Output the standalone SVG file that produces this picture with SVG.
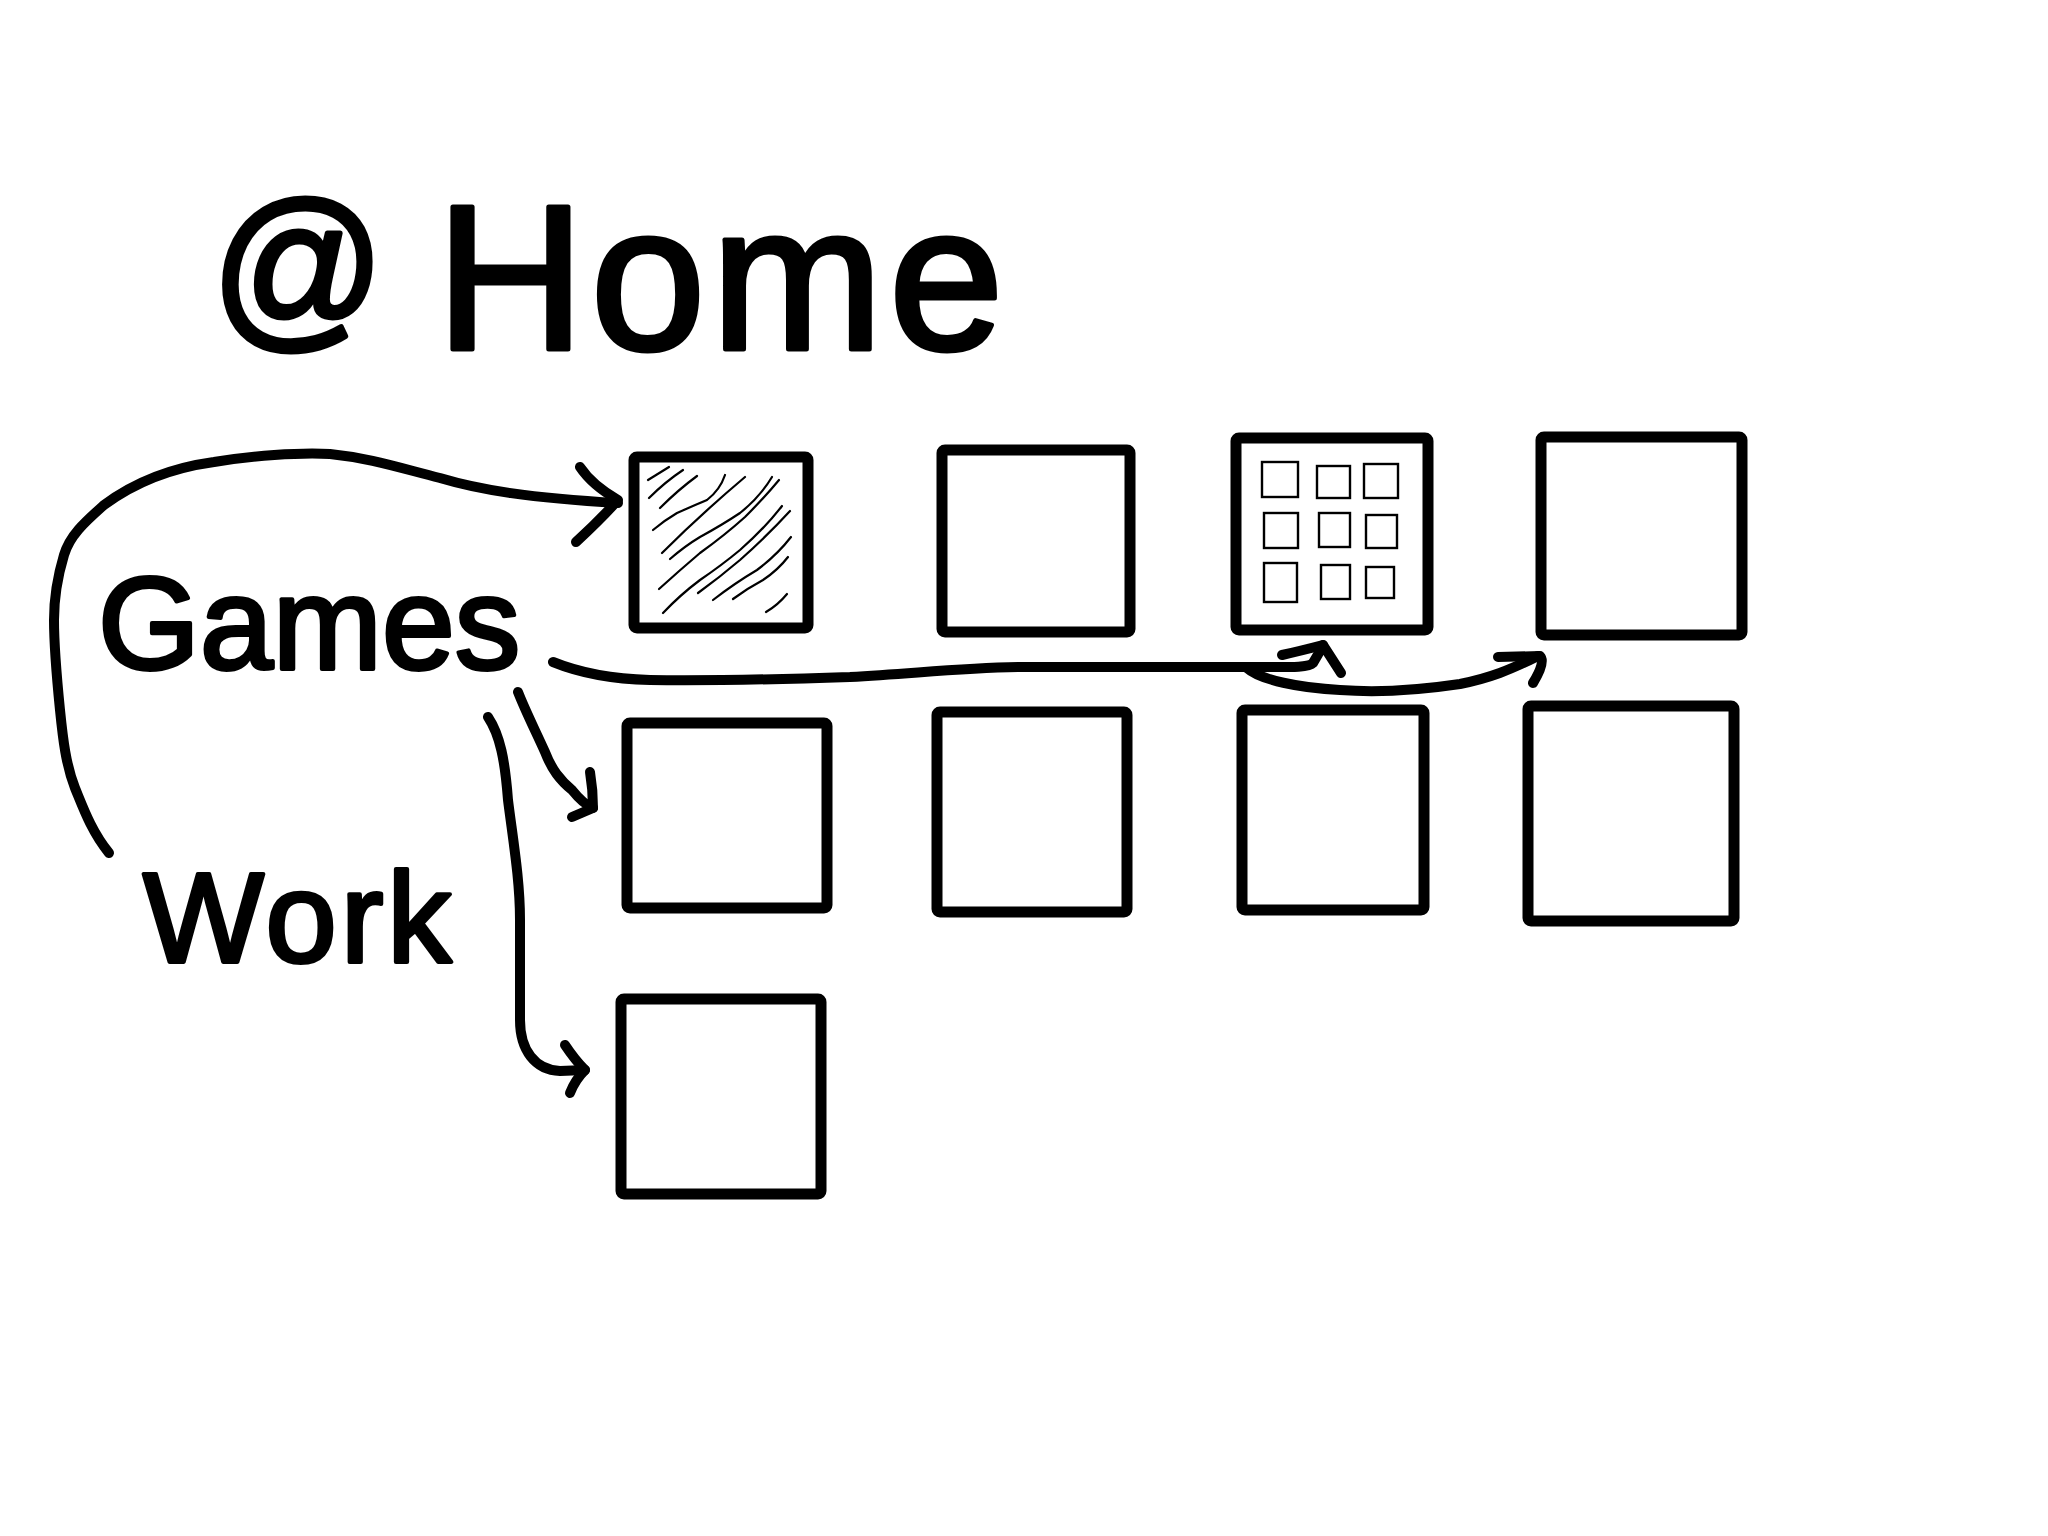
<svg xmlns="http://www.w3.org/2000/svg" width="2048" height="1536" viewBox="0 0 2048 1536">
<style>
.box{fill:none;stroke:#000;stroke-width:11;stroke-linejoin:round}
.mini{fill:none;stroke:#000;stroke-width:2.4}
.hatch{fill:none;stroke:#000;stroke-width:2.2;stroke-linecap:round}
.conn{fill:none;stroke:#000;stroke-width:10;stroke-linecap:round;stroke-linejoin:round}
.t{font-family:"Liberation Sans",Arial,Helvetica,sans-serif;fill:#000;stroke:#000;stroke-linejoin:round}
</style>
<rect width="2048" height="1536" fill="#fff"/>
<g id="title">
<text class="t" x="211" y="327" font-size="178" stroke-width="5" textLength="174" lengthAdjust="spacingAndGlyphs">@</text>
<text class="t" x="436" y="349" font-size="206" stroke-width="5" letter-spacing="6">Home</text>
</g>
<g id="label-games"><text class="t" x="98" y="669" font-size="131" stroke-width="4">Games</text></g>
<g id="label-work"><text class="t" x="143" y="962" font-size="128" stroke-width="4" letter-spacing="4">Work</text></g>
<g id="box1">
<rect class="box" x="634" y="457" width="174" height="171" rx="3"/>
<path class="hatch" d="M648,480 L669,467 M649,498 Q665,482 683,470 M660,508 Q678,490 697,476 M653,530 Q665,520 677,513 Q695,505 707,500 Q720,490 725,475 M662,553 Q700,515 745,477 M670,559 Q685,546 700,537 Q722,525 740,513 Q760,497 772,477 M659,589 Q680,570 700,553 Q725,535 745,517 Q765,497 779,480 M663,613 Q680,595 700,580 Q722,565 740,550 Q765,528 782,506 M698,593 Q720,577 740,560 Q768,535 790,511 M713,600 Q735,583 757,570 Q777,555 791,537 M733,599 Q748,588 763,580 Q778,570 788,557 M766,612 Q778,605 787,594"/>
</g>
<g id="box2"><rect class="box" x="942" y="450" width="188" height="182" rx="3"/></g>
<g id="box3">
<rect class="box" x="1236" y="438" width="192" height="192" rx="3"/>
<rect class="mini" x="1262" y="462" width="36" height="35"/>
<rect class="mini" x="1317" y="466" width="33" height="32"/>
<rect class="mini" x="1364" y="464" width="34" height="34"/>
<rect class="mini" x="1264" y="513" width="34" height="35"/>
<rect class="mini" x="1319" y="513" width="31" height="34"/>
<rect class="mini" x="1366" y="515" width="31" height="33"/>
<rect class="mini" x="1264" y="563" width="33" height="39"/>
<rect class="mini" x="1321" y="565" width="29" height="34"/>
<rect class="mini" x="1366" y="567" width="28" height="31"/>
</g>
<g id="box4"><rect class="box" x="1541" y="437" width="201" height="198" rx="3"/></g>
<g id="box5"><rect class="box" x="627" y="723" width="200" height="185" rx="3"/></g>
<g id="box6"><rect class="box" x="937" y="712" width="190" height="200" rx="3"/></g>
<g id="box7"><rect class="box" x="1242" y="710" width="182" height="200" rx="3"/></g>
<g id="box8"><rect class="box" x="1528" y="706" width="206" height="215" rx="3"/></g>
<g id="box9"><rect class="box" x="621" y="999" width="200" height="195" rx="3"/></g>
<g id="connectors">
<path class="conn" d="M109,853 C92,832 84,810 75,788 C66,765 63,740 60,710 C57,680 54,650 54,620 C54,595 58,575 64,555 C70,535 85,522 104,505 C135,482 170,468 214,462 C250,456 300,452 330,454 C370,458 400,468 440,478 C480,490 530,498 618,503"/>
<path class="conn" d="M580,467 Q592,485 618,500 Q600,520 576,542"/>
<path class="conn" d="M553,662 C580,673 610,679 650,680 C720,681 790,679 850,677 C920,673 960,668 1020,667 L1244,667 C1290,667 1308,668 1313,663 Q1318,655 1323,645 L1341,673"/>
<path class="conn" d="M1282,655 Q1300,651 1323,645"/>
<path class="conn" d="M1247,668 C1260,680 1300,688 1340,690 C1380,693 1420,690 1460,684 C1490,678 1510,670 1538,656"/>
<path class="conn" d="M1498,657 L1540,656 Q1546,662 1533,683"/>
<path class="conn" d="M518,692 C525,710 535,730 545,752 C552,770 560,780 572,790 C580,800 588,806 593,808"/>
<path class="conn" d="M590,772 Q593,790 593,808 L572,817"/>
<path class="conn" d="M488,717 C500,735 505,760 508,800 C513,840 520,880 520,920 L520,1020 C520,1050 535,1070 560,1071 L585,1070"/>
<path class="conn" d="M565,1045 Q575,1060 585,1070 Q575,1080 570,1093"/>
</g>
</svg>
